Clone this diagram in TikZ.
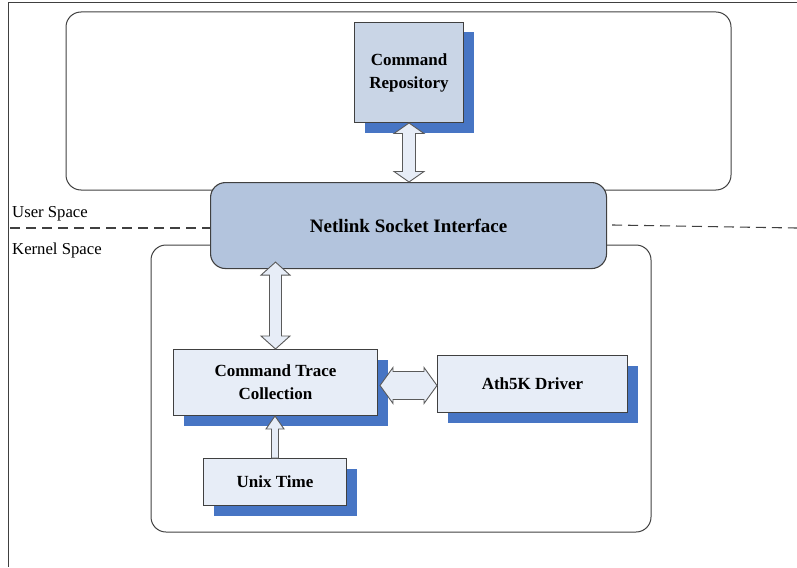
\documentclass[tikz,border=0pt]{standalone}
\usepackage{fontspec}
\setmainfont{Liberation Serif}
\usetikzlibrary{calc,shadows}
\definecolor{edgegray}{HTML}{404040}
\definecolor{arrowgray}{HTML}{5A5A5A}
\definecolor{shadowblue}{HTML}{4775C4}
\definecolor{nlfill}{HTML}{B3C4DD}
\definecolor{crfill}{HTML}{C9D5E6}
\definecolor{boxfill}{HTML}{E7EDF7}
\tikzset{
  spacebox/.style={draw=edgegray,line width=1pt,rounded corners=15pt},
  blockbox/.style={draw=edgegray,line width=1pt,fill=boxfill,inner sep=0pt,align=center,
    font=\bfseries\fontsize{17}{23}\selectfont,
    general shadow={fill=shadowblue,shadow xshift=10pt,shadow yshift=-10pt}},
  fatarrow/.style={draw=arrowgray,line width=0.9pt,fill=boxfill,line join=miter},
  divider/.style={dashed,dash pattern=on 10pt off 6pt,line width=1.1pt,draw=edgegray},
  spacelabel/.style={inner sep=0pt,anchor=base west,font=\fontsize{16.7}{20}\selectfont},
  frameline/.style={draw=edgegray,line width=1pt}
}
% vertical double fat arrow: #1 top tip, #2 bottom tip, #3 shaft half, #4 head half, #5 head length
\newcommand\fatV[5]{%
  \draw[fatarrow] (#1) -- ($(#1)+(#4pt,-#5pt)$) -- ($(#1)+(#3pt,-#5pt)$) -- ($(#2)+(#3pt,#5pt)$)
    -- ($(#2)+(#4pt,#5pt)$) -- (#2) -- ($(#2)+(-#4pt,#5pt)$) -- ($(#2)+(-#3pt,#5pt)$)
    -- ($(#1)+(-#3pt,-#5pt)$) -- ($(#1)+(-#4pt,-#5pt)$) -- cycle;}
% horizontal double fat arrow: #1 left tip, #2 right tip
\newcommand\fatH[5]{%
  \draw[fatarrow] (#1) -- ($(#1)+(#5pt,#4pt)$) -- ($(#1)+(#5pt,#3pt)$) -- ($(#2)+(-#5pt,#3pt)$)
    -- ($(#2)+(-#5pt,#4pt)$) -- (#2) -- ($(#2)+(-#5pt,-#4pt)$) -- ($(#2)+(-#5pt,-#3pt)$)
    -- ($(#1)+(#5pt,-#3pt)$) -- ($(#1)+(#5pt,-#4pt)$) -- cycle;}
% single fat arrow pointing up: #1 tip, #2 tail
\newcommand\fatUp[5]{%
  \draw[fatarrow] (#1) -- ($(#1)+(#4pt,-#5pt)$) -- ($(#1)+(#3pt,-#5pt)$) -- ($(#2)+(#3pt,0pt)$)
    -- ($(#2)+(-#3pt,0pt)$) -- ($(#1)+(-#3pt,-#5pt)$) -- ($(#1)+(-#4pt,-#5pt)$) -- cycle;}
\begin{document}
\begin{tikzpicture}[x=1pt,y=-1pt]
\useasboundingbox (0,0) rectangle (797,567);
% outer frame (partially visible)
\coordinate (fTL) at (8,3);
\coordinate (fTR) at (797,3);
\coordinate (fBL) at (8,567);
\draw[frameline] (fTR) -- (fTL) -- (fBL);
% spaces
\draw[spacebox] (66,12) rectangle (731,190);
\draw[spacebox] (151,245) rectangle (651,532);
% dividers
\coordinate (dL1) at (10,228);
\coordinate (dR1) at (612,225);
\coordinate (dR2) at (797,228);
\node[spacelabel] (us) at (12,217) {User Space};
\node[spacelabel] (ks) at (12,254) {Kernel Space};
% netlink
\node[draw=edgegray,line width=1.1pt,fill=nlfill,rounded corners=15pt,inner sep=0pt,
  minimum width=396pt,minimum height=86pt,anchor=north west,
  font=\bfseries\fontsize{19}{23}\selectfont] (nl) at (210,182) {Netlink Socket Interface};
\draw[divider] (dL1) -- (dL1 -| nl.west);
\draw[divider] (dR1) -- (dR2);
% blocks
\node[blockbox,fill=crfill,minimum width=109pt,minimum height=100pt,anchor=north west] (cr) at (354,22) {Command\\Repository};
\node[blockbox,minimum width=204pt,minimum height=66pt,anchor=north west] (ctc) at (173,349) {Command Trace\\Collection};
\node[blockbox,minimum width=190pt,minimum height=57pt,anchor=north west] (ath) at (437,355) {Ath5K Driver};
\node[blockbox,minimum width=143pt,minimum height=47pt,anchor=north west] (ut) at (203,458) {Unix Time};
% connectors
\fatV{cr.south}{cr.south |- nl.north}{6.5}{15}{10.5}
\coordinate (a2t) at ($(ctc.north |- nl.south)+(0,7pt)$);
\fatV{a2t}{ctc.north}{6}{14.5}{13}
\coordinate (a3l) at ($(ctc.east |- ath.west)+(2pt,-1.5pt)$);
\coordinate (a3r) at ($(ath.west)+(0,-1.5pt)$);
\fatH{a3l}{a3r}{14}{18}{13}
\fatUp{ut.north |- ctc.south}{ut.north}{3.5}{9}{13}
\end{tikzpicture}
\end{document}
